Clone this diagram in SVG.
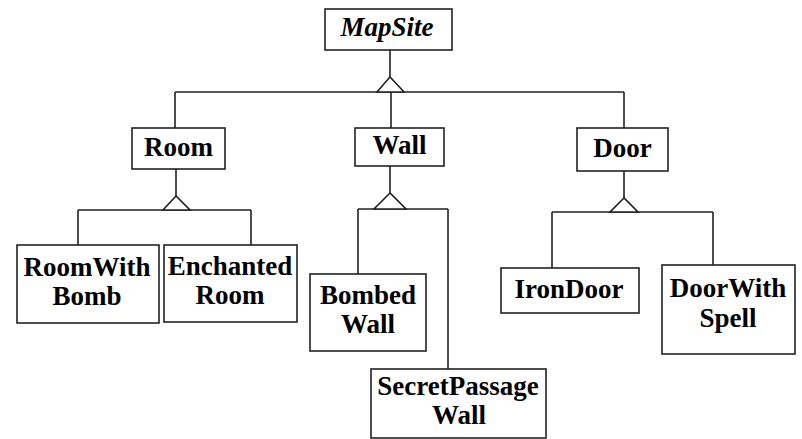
<svg xmlns="http://www.w3.org/2000/svg" width="802" height="439" viewBox="0 0 802 439">
<style>
.box{fill:#fff;stroke:#222;stroke-width:1.6}
.t{font-family:"Liberation Serif","Times New Roman",serif;font-weight:bold;font-size:27px;fill:#000;text-anchor:middle}
.it{font-style:italic}
.ln{fill:none;stroke:#222;stroke-width:1.6}
.tri{fill:#fff;stroke:#222;stroke-width:1.6;stroke-linejoin:miter}
</style>
<rect width="802" height="439" fill="#fff"/>
<g id="connectors">
<path class="ln" d="M390,50V77M175,92H624M175,92V128M391,92V128M624,92V128"/>
<polygon class="tri" points="390,77 377,92 404,92"/>
<path class="ln" d="M176,169V196M78,210H251M78,210V245M251,210V245"/>
<polygon class="tri" points="176,196 163,210 190,210"/>
<path class="ln" d="M390,166V193M358,209H448M358,209V274M448,209V369"/>
<polygon class="tri" points="390,193 374,209 406,209"/>
<path class="ln" d="M624,171V198M552,212H713M552,212V268M713,212V265"/>
<polygon class="tri" points="624,198 610,212 638,212"/>
</g>
<g id="MapSite"><rect class="box" x="325" y="9" width="127" height="41"/><text class="t it" x="387" y="36">MapSite</text></g>
<g id="Room"><rect class="box" x="132" y="128" width="93" height="41"/><text class="t" x="178.5" y="156">Room</text></g>
<g id="Wall"><rect class="box" x="355" y="128" width="89" height="38"/><text class="t" x="399.5" y="154">Wall</text></g>
<g id="Door"><rect class="box" x="577" y="128" width="91" height="43"/><text class="t" x="622.5" y="157">Door</text></g>
<g id="RoomWithBomb"><rect class="box" x="17" y="245" width="142" height="78"/><text class="t" x="87" y="276">RoomWith</text><text class="t" x="87" y="305">Bomb</text></g>
<g id="EnchantedRoom"><rect class="box" x="164" y="245" width="133" height="77"/><text class="t" x="230" y="275">Enchanted</text><text class="t" x="230" y="304">Room</text></g>
<g id="BombedWall"><rect class="box" x="310" y="274" width="116" height="77"/><text class="t" x="368" y="304">Bombed</text><text class="t" x="368" y="333">Wall</text></g>
<g id="SecretPassageWall"><rect class="box" x="371" y="369" width="175" height="69"/><text class="t" x="458" y="395">SecretPassage</text><text class="t" x="459" y="424">Wall</text></g>
<g id="IronDoor"><rect class="box" x="501" y="268" width="138" height="45"/><text class="t" x="569" y="298">IronDoor</text></g>
<g id="DoorWithSpell"><rect class="box" x="662" y="265" width="133" height="89"/><text class="t" x="728" y="297">DoorWith</text><text class="t" x="728" y="327">Spell</text></g>
</svg>
